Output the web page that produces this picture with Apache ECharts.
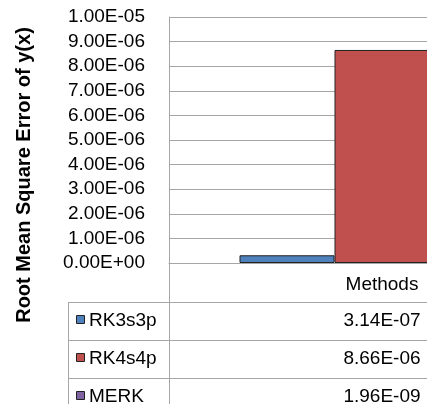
<!DOCTYPE html>
<html>
<head>
<meta charset="utf-8">
<script src="https://cdn.jsdelivr.net/npm/echarts@6/dist/echarts.min.js"></script>
<style>
  html, body { margin: 0; padding: 0; background: #fff; overflow: hidden; width: 427px; height: 404px; }
  /* the reference is a cropped Excel chart, so the canvas is wider than the window */
  #main { width: 600px; height: 404px; }
</style>
</head>
<body>
<div id="main"></div>
<script>
var categories = ['Methods'];
var seriesNames = ['RK3s3p', 'RK4s4p', 'MERK'];
var rk3s3p = [3.14e-7];
var rk4s4p = [8.66e-6];
var merk = [1.96e-9];
var yTicks = [0, 1e-6, 2e-6, 3e-6, 4e-6, 5e-6, 6e-6, 7e-6, 8e-6, 9e-6, 1e-5];

var colors = ['#4F81BD', '#C0504D', '#8064A2'];
var font = '"Liberation Sans", Arial, sans-serif';
var lineColor = '#a6a6a6';

// Excel style scientific label, e.g. 3.14E-07
function sci(v) {
  if (Math.abs(v) < 1e-20) return '0.00E+00';
  var s = Number(v).toExponential(2).split('e');
  var e = parseInt(s[1], 10);
  var a = Math.abs(e);
  return s[0] + 'E' + (e < 0 ? '-' : '+') + (a < 10 ? '0' : '') + a;
}

var chart = echarts.init(document.getElementById('main'));

var allData = [rk3s3p, rk4s4p, merk];
var series = [];
for (var i = 0; i < seriesNames.length; i++) {
  series.push({
    name: seriesNames[i],
    type: 'bar',
    data: allData[i],
    barWidth: 95,
    barGap: '0%',
    itemStyle: { color: colors[i], borderColor: '#222', borderWidth: 1 },
    animation: false
  });
}

chart.setOption({
  animation: false,
  grid: { left: 169, top: 17, width: 426, height: 246 },
  xAxis: {
    type: 'category',
    data: categories,
    axisLine: { show: true, lineStyle: { color: lineColor } },
    axisTick: { show: false },
    axisLabel: { color: '#000', fontSize: 19, fontFamily: font, margin: 12 }
  },
  yAxis: {
    type: 'value',
    min: yTicks[0],
    max: yTicks[yTicks.length - 1],
    interval: yTicks[1] - yTicks[0],
    axisLine: { show: true, lineStyle: { color: lineColor } },
    axisTick: { show: false },
    axisLabel: { color: '#000', fontSize: 19, fontFamily: font, margin: 24, formatter: sci },
    splitLine: { show: true, lineStyle: { color: lineColor } }
  },
  series: series
});

// data table under the plot
var cx = chart.convertToPixel({ xAxisIndex: 0 }, categories[0]);
var y0 = chart.convertToPixel({ yAxisIndex: 0 }, 0);
var rowH = 38;
var tableLeft = 68;
var plotLeft = 169;
var firstRow = y0 + 39;
var g = [];
g.push({ type: 'line', shape: { x1: plotLeft + 0.5, y1: y0, x2: plotLeft + 0.5, y2: 404 }, style: { stroke: lineColor, lineWidth: 1 } });
g.push({ type: 'line', shape: { x1: tableLeft + 0.5, y1: firstRow, x2: tableLeft + 0.5, y2: 404 }, style: { stroke: lineColor, lineWidth: 1 } });
for (var r = 0; r < seriesNames.length; r++) {
  var rowTop = firstRow + r * rowH;
  var mid = rowTop + rowH / 2;
  g.push({ type: 'line', shape: { x1: tableLeft, y1: rowTop + 0.5, x2: 600, y2: rowTop + 0.5 }, style: { stroke: lineColor, lineWidth: 1 } });
  g.push({ type: 'rect', shape: { x: 76.5, y: Math.round(mid) - 5.5, width: 8, height: 8 }, style: { fill: colors[r], stroke: '#222', lineWidth: 1 } });
  g.push({ type: 'text', x: 89, y: mid, style: { text: seriesNames[r], fill: '#000', font: '19px ' + font, textAlign: 'left', textVerticalAlign: 'middle' } });
  g.push({ type: 'text', x: cx, y: mid, style: { text: sci(allData[r][0]), fill: '#000', font: '19px ' + font, textAlign: 'center', textVerticalAlign: 'middle' } });
}
g.push({ type: 'text', x: 24, y: 175, rotation: Math.PI / 2, style: { text: 'Root Mean Square Error of y(x)', fill: '#000', font: 'bold 20px ' + font, textAlign: 'center', textVerticalAlign: 'middle' } });

chart.setOption({ graphic: { elements: g } });
</script>
</body>
</html>
